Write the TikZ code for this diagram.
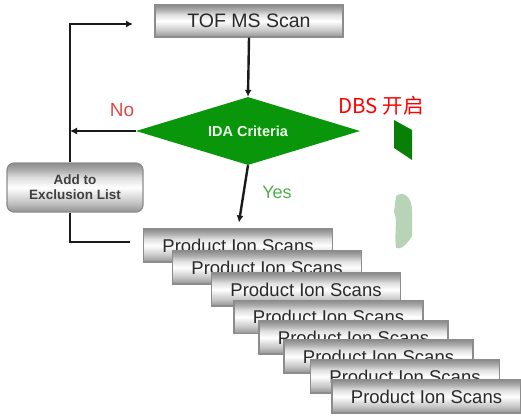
\documentclass[tikz,border=0pt]{standalone}
\usepackage{fontspec}
\setmainfont{Liberation Sans}
\newfontfamily\cjk{Noto Sans CJK SC}
\usetikzlibrary{shapes.geometric,arrows.meta}

% brushed-metal look of the process boxes; the path spans 25bp (bottom) to 75bp (top)
\pgfdeclareverticalshading{metal}{100bp}{%
  color(0bp)=(gray!85); color(25bp)=(gray!85); color(35bp)=(gray!45);
  color(50bp)=(white); color(60bp)=(gray!25); color(68bp)=(gray!65);
  color(75bp)=(gray!90); color(100bp)=(gray!90)}

\definecolor{idagreen}{HTML}{0A960A}
\definecolor{nored}{HTML}{E04848}
\definecolor{yesgreen}{HTML}{4EAE4E}
\definecolor{boxtext}{HTML}{2A2A2A}
\definecolor{lineink}{HTML}{1A1A1A}

\tikzset{
  metalbox/.style={draw=gray!90, line width=1.2pt, shading=metal,
    text=boxtext, inner sep=0pt},
  scanbox/.style={metalbox, minimum width=189pt, minimum height=33pt,
    font=\fontsize{18.5}{20}\selectfont},
  flow/.style={draw=lineink, line width=2.4pt},
  flowarrow/.style={flow, -{Latex[length=7pt,width=7pt]}},
}

\begin{document}
\begin{tikzpicture}[x=1pt,y=-1pt]
\useasboundingbox (0,0) rectangle (521,415);

% main scan and decision
\node[metalbox, minimum width=188pt, minimum height=32pt,
      font=\fontsize{19.5}{22}\selectfont] (tof) at (249,21) {TOF MS Scan};
\node[diamond, shape aspect=3.3, fill=idagreen, inner sep=0pt,
      minimum width=224pt, minimum height=68pt, text=white!92!green,
      font=\bfseries\fontsize{14.5}{16}\selectfont] (dia) at (248,131) {IDA Criteria};

% exclusion list
\node[metalbox, rounded corners=7pt, minimum width=136pt, minimum height=49pt,
      align=center, text=black!75, font=\bfseries\fontsize{13.5}{15}\selectfont]
      (excl) at (75,187.5) {Add to\\Exclusion List};

% loop coordinates
\coordinate (loopTop) at (70,24);
\coordinate (tofIn) at (133,24);
\coordinate (noJoin) at (70,131);
\coordinate (scanIn) at (130,242);

% connectors
\draw[flowarrow] (tof.south) -- (dia.north);
\draw[flowarrow] (dia.west) -- (noJoin);
\draw[flowarrow] (excl.north -| loopTop) -- (loopTop) -- (tofIn);
\draw[flow] (excl.south -| loopTop) |- (scanIn);

% labels
\node[text=nored, font=\fontsize{19}{21}\selectfont] (nolab) at (122,110) {No};
\node[text=yesgreen, font=\fontsize{18}{20}\selectfont] (yeslab) at (277,192) {Yes};
\node[text=red, font=\cjk\fontsize{20.5}{22}\selectfont] (dbs) at (381,106) {DBS 开启};

% product ion scans, stacked
\node[scanbox] (p1) at (238,245.5) {Product Ion Scans};
\node[scanbox] (p2) at (267,267.5) {Product Ion Scans};
\node[scanbox] (p3) at (306,289.5) {Product Ion Scans};
\node[scanbox] (p4) at (328.5,317) {Product Ion Scans};
\node[scanbox] (p5) at (353.5,337.5) {Product Ion Scans};
\node[scanbox] (p6) at (378.5,356.5) {Product Ion Scans};
\node[scanbox] (p7) at (405,376.5) {Product Ion Scans};
\node[scanbox] (p8) at (426.5,396.5) {Product Ion Scans};

\draw[flowarrow, shorten >=6pt] (dia.south) -- (p1.north);

% green fragments at the right edge
\fill[idagreen!85!black] (394,120) -- (412,130) -- (412,160) -- (394,148) -- cycle;
\fill[green!25!gray!45] (396,196) .. controls (404,190) and (412,198) .. (412,210)
  -- (412,236) .. controls (406,246) and (400,250) .. (396,248)
  .. controls (394,232) and (398,220) .. (394,212) -- cycle;
\end{tikzpicture}
\end{document}
